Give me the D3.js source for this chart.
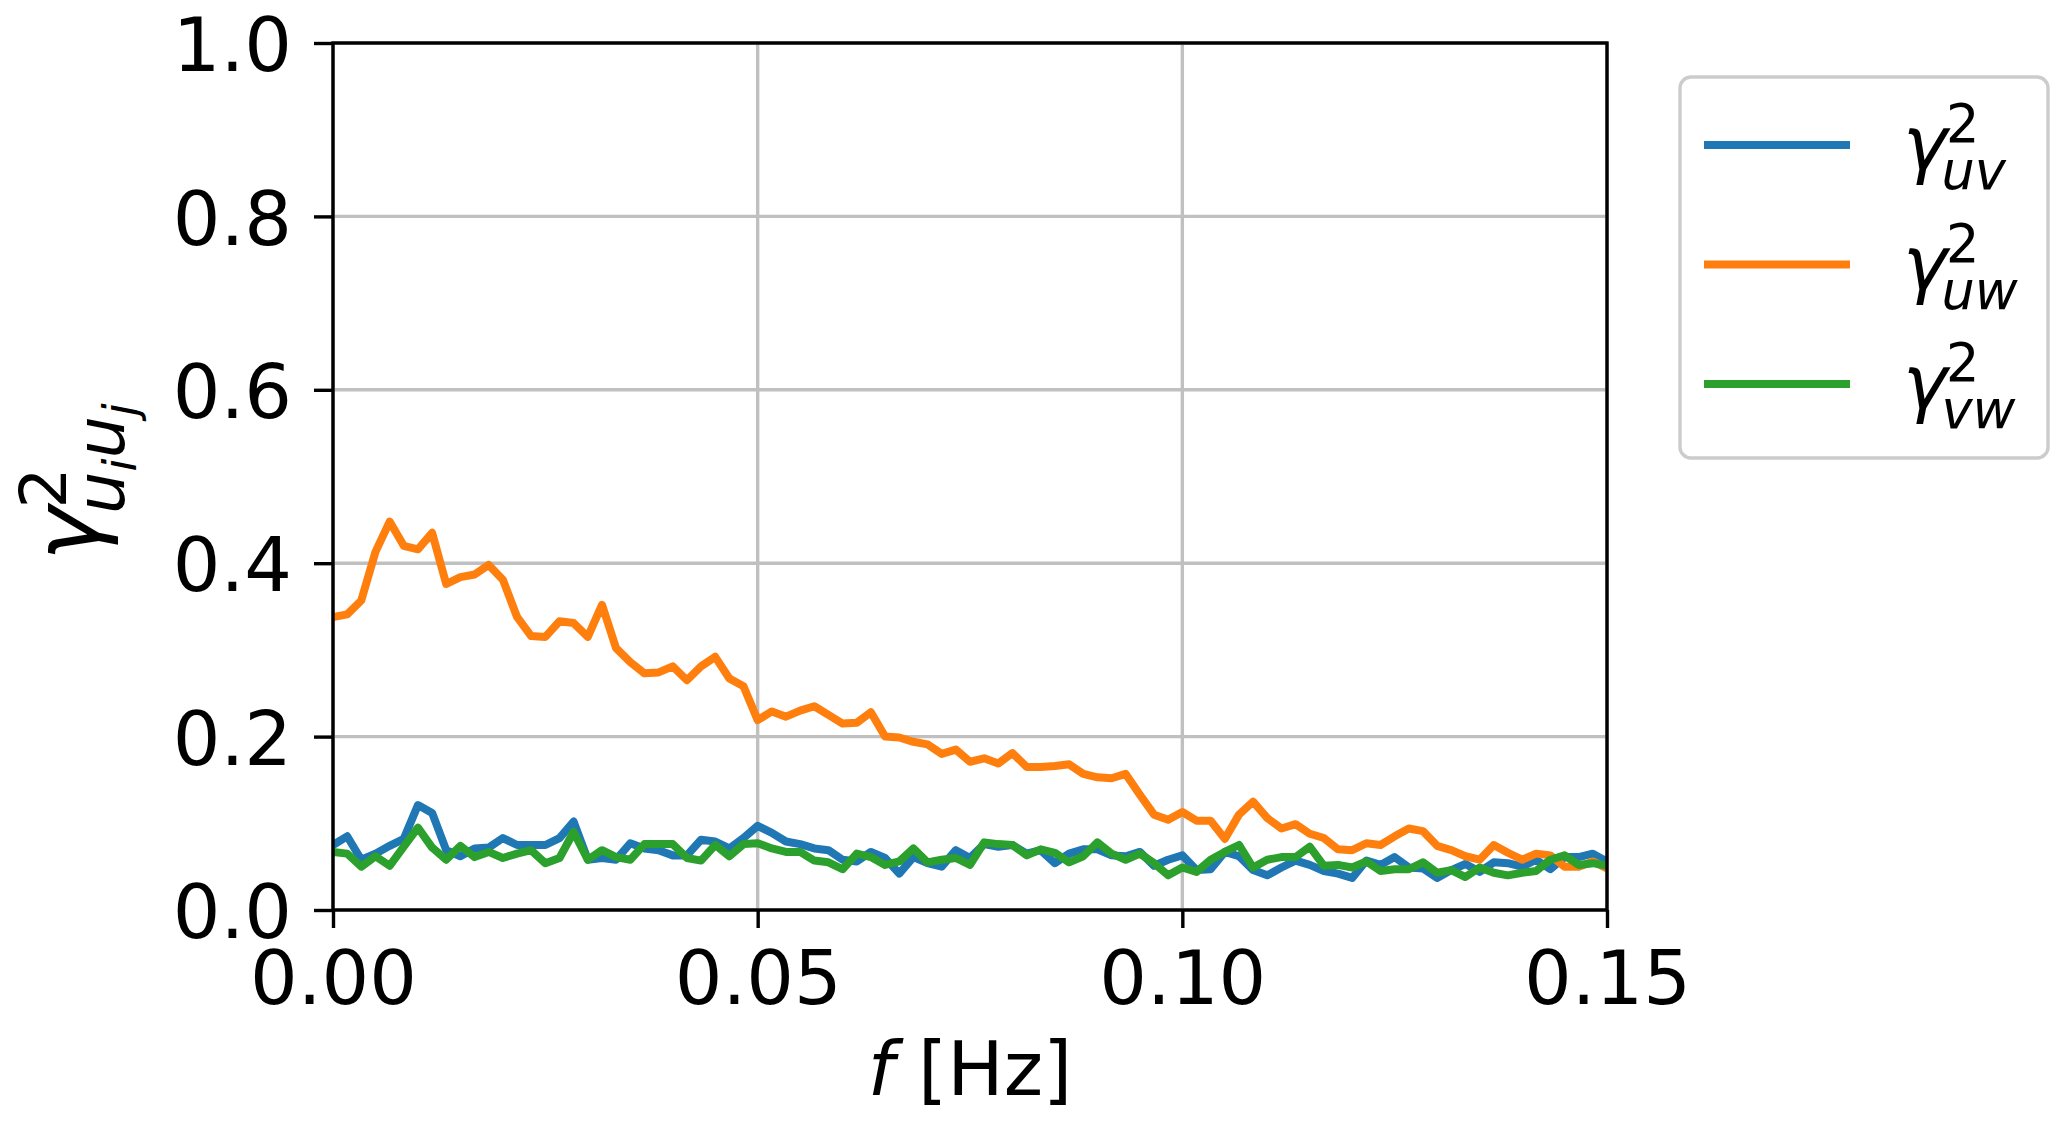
<!DOCTYPE html>
<html>
<head>
<meta charset="utf-8">
<script src="https://cdn.jsdelivr.net/npm/d3@7.9.0/dist/d3.min.js"></script>
<style>
  body { margin: 0; background: #fff; }
  svg { display: block; font-family: "DejaVu Sans", sans-serif; }
</style>
</head>
<body>
<svg width="2067" height="1123"></svg>
<script>
// frequency grid [Hz]
const freq = [
  0, 0.00167, 0.00333, 0.005, 0.00667, 0.00833, 0.01, 0.01167, 0.01333, 0.015,
  0.01667, 0.01833, 0.02, 0.02167, 0.02333, 0.025, 0.02667, 0.02833, 0.03, 0.03167,
  0.03333, 0.035, 0.03667, 0.03833, 0.04, 0.04167, 0.04333, 0.045, 0.04667, 0.04833,
  0.05, 0.05167, 0.05333, 0.055, 0.05667, 0.05833, 0.06, 0.06167, 0.06333, 0.065,
  0.06667, 0.06833, 0.07, 0.07167, 0.07333, 0.075, 0.07667, 0.07833, 0.08, 0.08167,
  0.08333, 0.085, 0.08667, 0.08833, 0.09, 0.09167, 0.09333, 0.095, 0.09667, 0.09833,
  0.1, 0.10167, 0.10333, 0.105, 0.10667, 0.10833, 0.11, 0.11167, 0.11333, 0.115,
  0.11667, 0.11833, 0.12, 0.12167, 0.12333, 0.125, 0.12667, 0.12833, 0.13, 0.13167,
  0.13333, 0.135, 0.13667, 0.13833, 0.14, 0.14167, 0.14333, 0.145, 0.14667, 0.14833,
  0.15
];

const cohUV = [
  0.075, 0.085, 0.058, 0.065, 0.074, 0.082, 0.121, 0.112, 0.069, 0.062,
  0.071, 0.072, 0.083, 0.075, 0.075, 0.075, 0.083, 0.102, 0.058, 0.060,
  0.058, 0.077, 0.071, 0.069, 0.063, 0.063, 0.081, 0.079, 0.071, 0.083,
  0.097, 0.089, 0.079, 0.076, 0.071, 0.069, 0.058, 0.056, 0.067, 0.060,
  0.042, 0.061, 0.054, 0.050, 0.069, 0.060, 0.076, 0.073, 0.075, 0.065,
  0.069, 0.054, 0.065, 0.070, 0.070, 0.063, 0.062, 0.067, 0.051, 0.058,
  0.063, 0.046, 0.047, 0.067, 0.062, 0.046, 0.040, 0.049, 0.057, 0.052,
  0.045, 0.042, 0.037, 0.057, 0.052, 0.061, 0.049, 0.048, 0.037, 0.046,
  0.053, 0.044, 0.055, 0.054, 0.050, 0.058, 0.047, 0.061, 0.061, 0.065,
  0.056
];

const cohUW = [
  0.338, 0.341, 0.357, 0.413, 0.448, 0.420, 0.416, 0.435, 0.376, 0.384,
  0.387, 0.398, 0.381, 0.338, 0.316, 0.315, 0.333, 0.331, 0.315, 0.352,
  0.302, 0.286, 0.273, 0.274, 0.281, 0.265, 0.281, 0.292, 0.267, 0.258,
  0.219, 0.229, 0.223, 0.230, 0.235, 0.225, 0.215, 0.216, 0.228, 0.200,
  0.199, 0.194, 0.191, 0.180, 0.185, 0.171, 0.175, 0.169, 0.181, 0.165,
  0.165, 0.166, 0.168, 0.157, 0.153, 0.152, 0.157, 0.133, 0.110, 0.104,
  0.113, 0.103, 0.103, 0.082, 0.110, 0.125, 0.106, 0.094, 0.099, 0.088,
  0.083, 0.070, 0.069, 0.077, 0.075, 0.085, 0.094, 0.091, 0.074, 0.069,
  0.062, 0.058, 0.075, 0.066, 0.058, 0.065, 0.063, 0.050, 0.050, 0.056,
  0.048
];

const cohVW = [
  0.067, 0.065, 0.050, 0.062, 0.051, 0.073, 0.095, 0.072, 0.058, 0.074,
  0.061, 0.067, 0.060, 0.065, 0.069, 0.054, 0.060, 0.090, 0.058, 0.069,
  0.061, 0.058, 0.076, 0.076, 0.076, 0.060, 0.057, 0.075, 0.062, 0.076,
  0.077, 0.071, 0.067, 0.067, 0.057, 0.055, 0.047, 0.065, 0.061, 0.052,
  0.056, 0.071, 0.055, 0.058, 0.060, 0.052, 0.078, 0.076, 0.075, 0.063,
  0.070, 0.066, 0.055, 0.062, 0.078, 0.065, 0.058, 0.065, 0.054, 0.040,
  0.049, 0.044, 0.058, 0.067, 0.075, 0.049, 0.058, 0.061, 0.061, 0.073,
  0.051, 0.052, 0.049, 0.056, 0.045, 0.047, 0.047, 0.055, 0.043, 0.046,
  0.038, 0.049, 0.043, 0.040, 0.043, 0.045, 0.058, 0.063, 0.052, 0.054,
  0.051
];

const xTicks = [0, 0.05, 0.10, 0.15];
const yTicks = [0, 0.2, 0.4, 0.6, 0.8, 1.0];

const series = [
  {sub: "uv", values: cohUV, color: "#1f77b4"},
  {sub: "uw", values: cohUW, color: "#ff7f0e"},
  {sub: "vw", values: cohVW, color: "#2ca02c"}
];

const svg = d3.select("svg"),
      margin = {top: 43, right: 460, bottom: 213, left: 333},
      width = +svg.attr("width") - margin.left - margin.right,
      height = +svg.attr("height") - margin.top - margin.bottom,
      g = svg.append("g").attr("transform", `translate(${margin.left},${margin.top})`);

const fontSize = 75;
const lw = 3.4;       // spines, ticks, grid
const dataLw = 8;     // data lines

const x = d3.scaleLinear().domain([0, 0.15]).range([0, width]);
const y = d3.scaleLinear().domain([0, 1]).range([height, 0]);

// grid
g.append("g").selectAll("line").data(xTicks).join("line")
  .attr("x1", d => x(d)).attr("x2", d => x(d))
  .attr("y1", 0).attr("y2", height)
  .attr("stroke", "#c0c0c0").attr("stroke-width", lw);
g.append("g").selectAll("line").data(yTicks).join("line")
  .attr("x1", 0).attr("x2", width)
  .attr("y1", d => y(d)).attr("y2", d => y(d))
  .attr("stroke", "#c0c0c0").attr("stroke-width", lw);

// lines
svg.append("defs").append("clipPath").attr("id", "plotclip")
  .append("rect").attr("width", width).attr("height", height);

const line = d3.line()
  .x((d, i) => x(freq[i]))
  .y(d => y(d));

g.append("g").attr("clip-path", "url(#plotclip)")
  .selectAll("path").data(series).join("path")
  .attr("d", d => line(d.values))
  .attr("fill", "none")
  .attr("stroke", d => d.color)
  .attr("stroke-width", dataLw)
  .attr("stroke-linejoin", "round");

// axes
const xAxis = g.append("g").attr("transform", `translate(0,${height})`)
  .call(d3.axisBottom(x).tickValues(xTicks).tickFormat(d3.format(".2f"))
    .tickSize(18).tickSizeOuter(0).tickPadding(23));
const yAxis = g.append("g")
  .call(d3.axisLeft(y).tickValues(yTicks).tickFormat(d3.format(".1f"))
    .tickSize(19).tickSizeOuter(0).tickPadding(22));

for (const ax of [xAxis, yAxis]) {
  ax.select(".domain").remove();
  ax.attr("font-family", "DejaVu Sans").attr("font-size", fontSize);
  ax.selectAll(".tick line").attr("stroke", "#000").attr("stroke-width", lw);
  ax.selectAll(".tick text").attr("fill", "#000");
}
yAxis.selectAll(".tick text").attr("dy", "0.37em");

// spines
g.append("rect")
  .attr("width", width).attr("height", height)
  .attr("fill", "none").attr("stroke", "#000").attr("stroke-width", lw);

// x label
const xl = svg.append("text")
  .attr("x", margin.left + width / 2)
  .attr("y", 1095)
  .attr("text-anchor", "middle")
  .attr("font-size", fontSize);
xl.append("tspan").attr("font-style", "italic").text("f");
xl.append("tspan").text(" [Hz]");

// gamma^2 with a subscript, one text element, sup and sub stacked
function gammaLabel(parent, fs, subParts) {
  const sfs = fs * 0.7;
  const supY = -fs * 0.36, subY = fs * 0.27;
  const text = parent.append("text").attr("font-size", fs);
  text.append("tspan").attr("font-style", "italic").text("γ");
  const sup = text.append("tspan").attr("font-size", sfs)
    .attr("dx", -fs * 0.02).attr("dy", supY).text("2");
  const w2 = sup.node().getComputedTextLength();
  let curY = supY;
  subParts.forEach((p, k) => {
    const ty = subY + p.shift;
    const t = text.append("tspan")
      .attr("font-size", sfs * p.scale)
      .attr("font-style", "italic")
      .attr("dy", ty - curY)
      .text(p.t);
    if (k === 0) t.attr("dx", -w2 - fs * 0.06);
    curY = ty;
  });
}

// y label
const yl = svg.append("g").attr("transform", "translate(99,561) rotate(-90)");
gammaLabel(yl, 92, [
  {t: "u", scale: 1.04, shift: 0},
  {t: "i", scale: 0.72, shift: 12},
  {t: "u", scale: 1.04, shift: 0},
  {t: "j", scale: 0.72, shift: 12}
]);

// legend
const legend = svg.append("g");
legend.append("rect")
  .attr("x", 1680).attr("y", 77).attr("width", 368).attr("height", 381)
  .attr("rx", 11).attr("fill", "#fff").attr("fill-opacity", 0.8)
  .attr("stroke", "#cccccc").attr("stroke-width", lw);

const ly = d3.scalePoint().domain(series.map(d => d.sub)).range([145, 384]);

series.forEach(s => {
  legend.append("line")
    .attr("x1", 1704).attr("x2", 1850)
    .attr("y1", ly(s.sub)).attr("y2", ly(s.sub))
    .attr("stroke", s.color).attr("stroke-width", dataLw);
  const lg = legend.append("g")
    .attr("transform", `translate(1903,${ly(s.sub) + 24})`);
  gammaLabel(lg, fontSize, [{t: s.sub, scale: 1, shift: 0}]);
});
</script>
</body>
</html>
